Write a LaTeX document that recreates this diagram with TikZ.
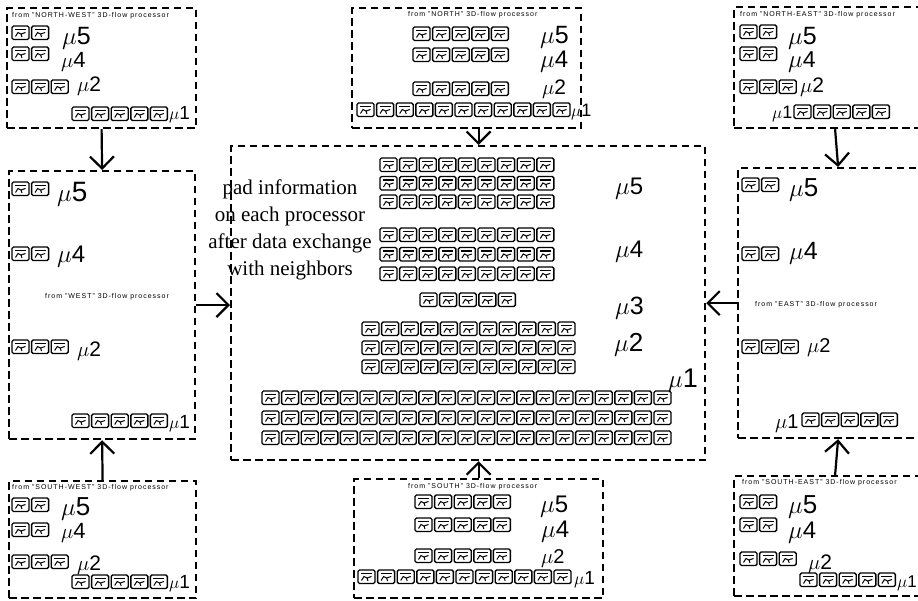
\documentclass[tikz,border=0pt]{standalone}
\usepackage{fontspec}
\setmainfont{Liberation Serif}
\setsansfont{Liberation Sans}
\usetikzlibrary{arrows.meta,positioning}
\newcommand{\padrow}[3]{%
  \foreach \i in {1,...,#3}
    \pic at ({#1+(\i-1)*19.6},#2) {padcell};}

\begin{document}
\begin{tikzpicture}[x=1pt,y=-1pt,
    panel/.style={draw, dash pattern=on 7.5pt off 4.5pt, line width=2.2pt,
      anchor=north west, inner sep=0},
    feed/.style={-{Straight Barb[length=12pt,width=24pt]}, line width=2.2pt},
    hdr/.style={font=\sffamily\fontsize{7}{7}\selectfont\addfontfeatures{LetterSpace=14},
      inner sep=0, anchor=west},
    mulab/.style={inner sep=0, anchor=base west, font=\fontsize{#1}{#1}\selectfont},
    padcell/.pic={
      \draw[line width=1.4pt, rounded corners=1.5pt] (0,0) rectangle (17,13.5);
      \draw[line width=1.1pt] (3,3.5) -- (14,3.5);
      \draw[line width=1pt] (3.5,10.5) -- (6,6.5) -- (9,8) -- (13.5,6.5) (9,8) -- (10,11);
    }]
    \useasboundingbox (0,0) rectangle (918,601);

    % the eight neighbours and the processor itself
    \node[panel, minimum width=189pt, minimum height=120pt] (nw) at (6,7) {};
    \node[panel, minimum width=229pt, minimum height=120pt] (n) at (351,7) {};
    \node[panel, minimum width=202pt, minimum height=121pt] (ne) at (733,6) {};
    \node[panel, minimum width=186pt, minimum height=268pt] (w) at (8,170) {};
    \node[panel, minimum width=474pt, minimum height=314pt] (ctr) at (230,145) {};
    \node[panel, minimum width=200pt, minimum height=270pt] (e) at (737,167) {};
    \node[panel, minimum width=187pt, minimum height=117pt] (sw) at (8,480) {};
    \node[panel, minimum width=249pt, minimum height=119pt] (s) at (353,478) {};
    \node[panel, minimum width=202pt, minimum height=120pt] (se) at (733,475) {};

    \draw[feed] (nw.south) -- (w.north);
    \draw[feed] (n.south -| s.north) -- (ctr.north -| s.north);
    \draw[feed] (ne.south) -- (e.north);
    \draw[feed] (w.east) -- (w.east -| ctr.west);
    \draw[feed] (e.west) -- (e.west -| ctr.east);
    \draw[feed] (sw.north) -- (w.south);
    \draw[feed] (s.north) -- (s.north |- ctr.south);
    \draw[feed] (se.north) -- (e.south);

    % north-west
    \node[hdr] (nwh) at (12,16) {from "NORTH-WEST" 3D-flow processor};
    \padrow{12}{26}{2}  \node[mulab=25] (nw5) at (62,45) {$\mu$\textsf{5}};
    \padrow{12}{47}{2}  \node[mulab=22] (nw4) at (61,68) {$\mu$\textsf{4}};
    \padrow{12}{80}{3}  \node[mulab=21] (nw2) at (77,92) {$\mu$\textsf{2}};
    \padrow{72}{107}{5} \node[mulab=19] (nw1) at (169,120) {$\mu$\textsf{1}};

    % north
    \node[hdr] (nh) at (408,15) {from "NORTH" 3D-flow processor};
    \padrow{413}{27}{5}  \node[mulab=25] (n5) at (540,44) {$\mu$\textsf{5}};
    \padrow{413}{48}{5}  \node[mulab=24] (n4) at (540,68) {$\mu$\textsf{4}};
    \padrow{413}{82}{5}  \node[mulab=21] (n2) at (542,95) {$\mu$\textsf{2}};
    \padrow{357}{103}{11} \node[mulab=18] (n1) at (571,117) {$\mu$\textsf{1}};

    % north-east
    \node[hdr] (neh) at (740,15) {from "NORTH-EAST" 3D-flow processor};
    \padrow{740}{25}{2}  \node[mulab=25] (ne5) at (788,45) {$\mu$\textsf{5}};
    \padrow{740}{47}{2}  \node[mulab=23] (ne4) at (788,68) {$\mu$\textsf{4}};
    \padrow{740}{80}{3}  \node[mulab=21] (ne2) at (800,93) {$\mu$\textsf{2}};
    \node[mulab=18] (ne1) at (772,119) {$\mu$\textsf{1}};
    \padrow{794}{105}{5}

    % west
    \padrow{12}{182}{2}  \node[mulab=28] (w5) at (57,202) {$\mu$\textsf{5}};
    \padrow{12}{247}{2}  \node[mulab=24] (w4) at (57,263) {$\mu$\textsf{4}};
    \node[hdr] (wh) at (45,297) {from "WEST" 3D-flow processor};
    \padrow{12}{340}{3}  \node[mulab=21] (w2) at (77,357) {$\mu$\textsf{2}};
    \padrow{72}{414}{5}  \node[mulab=19] (w1) at (169,428) {$\mu$\textsf{1}};

    % east
    \padrow{742}{178}{2} \node[mulab=26] (e5) at (789,197) {$\mu$\textsf{5}};
    \padrow{742}{247}{2} \node[mulab=25] (e4) at (789,260) {$\mu$\textsf{4}};
    \node[hdr] (eh) at (755,305) {from "EAST" 3D-flow processor};
    \padrow{742}{340}{3} \node[mulab=20] (e2) at (807,353) {$\mu$\textsf{2}};
    \node[mulab=20] (e1) at (775,428) {$\mu$\textsf{1}};
    \padrow{802}{413}{5}

    % south-west
    \node[hdr] (swh) at (12,488) {from "SOUTH-WEST" 3D-flow processor};
    \padrow{12}{498}{2}  \node[mulab=26] (sw5) at (61,515) {$\mu$\textsf{5}};
    \padrow{12}{523}{2}  \node[mulab=22] (sw4) at (61,538) {$\mu$\textsf{4}};
    \padrow{12}{555}{3}  \node[mulab=21] (sw2) at (77,570) {$\mu$\textsf{2}};
    \padrow{72}{575}{5}  \node[mulab=19] (sw1) at (169,588) {$\mu$\textsf{1}};

    % south
    \node[hdr] (sh) at (408,487) {from "SOUTH" 3D-flow processor};
    \padrow{415}{495}{5} \node[mulab=24] (s5) at (540,512) {$\mu$\textsf{5}};
    \padrow{415}{518}{5} \node[mulab=24] (s4) at (541,537) {$\mu$\textsf{4}};
    \padrow{415}{549}{5} \node[mulab=20] (s2) at (541,563) {$\mu$\textsf{2}};
    \padrow{358}{570}{11} \node[mulab=19] (s1) at (574,584) {$\mu$\textsf{1}};

    % south-east
    \node[hdr] (seh) at (742,483) {from "SOUTH-EAST" 3D-flow processor};
    \padrow{740}{495}{2} \node[mulab=26] (se5) at (788,513) {$\mu$\textsf{5}};
    \padrow{740}{518}{2} \node[mulab=24] (se4) at (788,538) {$\mu$\textsf{4}};
    \padrow{740}{552}{3} \node[mulab=21] (se2) at (808,569) {$\mu$\textsf{2}};
    \padrow{800}{573}{5} \node[mulab=17] (se1) at (897,587) {$\mu$\textsf{1}};

    % this processor after the exchange
    \node[font=\fontsize{21}{27}\selectfont, align=center, inner sep=0] (note) at (290,230)
      {pad information\\on each processor\\after data exchange\\with neighbors};
    \foreach \r in {0,1,2} {
      \padrow{380}{158+18.5*\r}{9}
      \padrow{380}{228+19.5*\r}{9}
      \padrow{362}{322+19*\r}{11}
      \padrow{262}{391+20*\r}{21}
    }
    \padrow{420}{293}{5}
    \node[mulab=24] (c5) at (615,195) {$\mu$\textsf{5}};
    \node[mulab=24] (c4) at (615,258) {$\mu$\textsf{4}};
    \node[mulab=25] (c3) at (615,315) {$\mu$\textsf{3}};
    \node[mulab=26] (c2) at (614,352) {$\mu$\textsf{2}};
    \node[mulab=27] (c1) at (668,388) {$\mu$\textsf{1}};
  \end{tikzpicture}
\end{document}
